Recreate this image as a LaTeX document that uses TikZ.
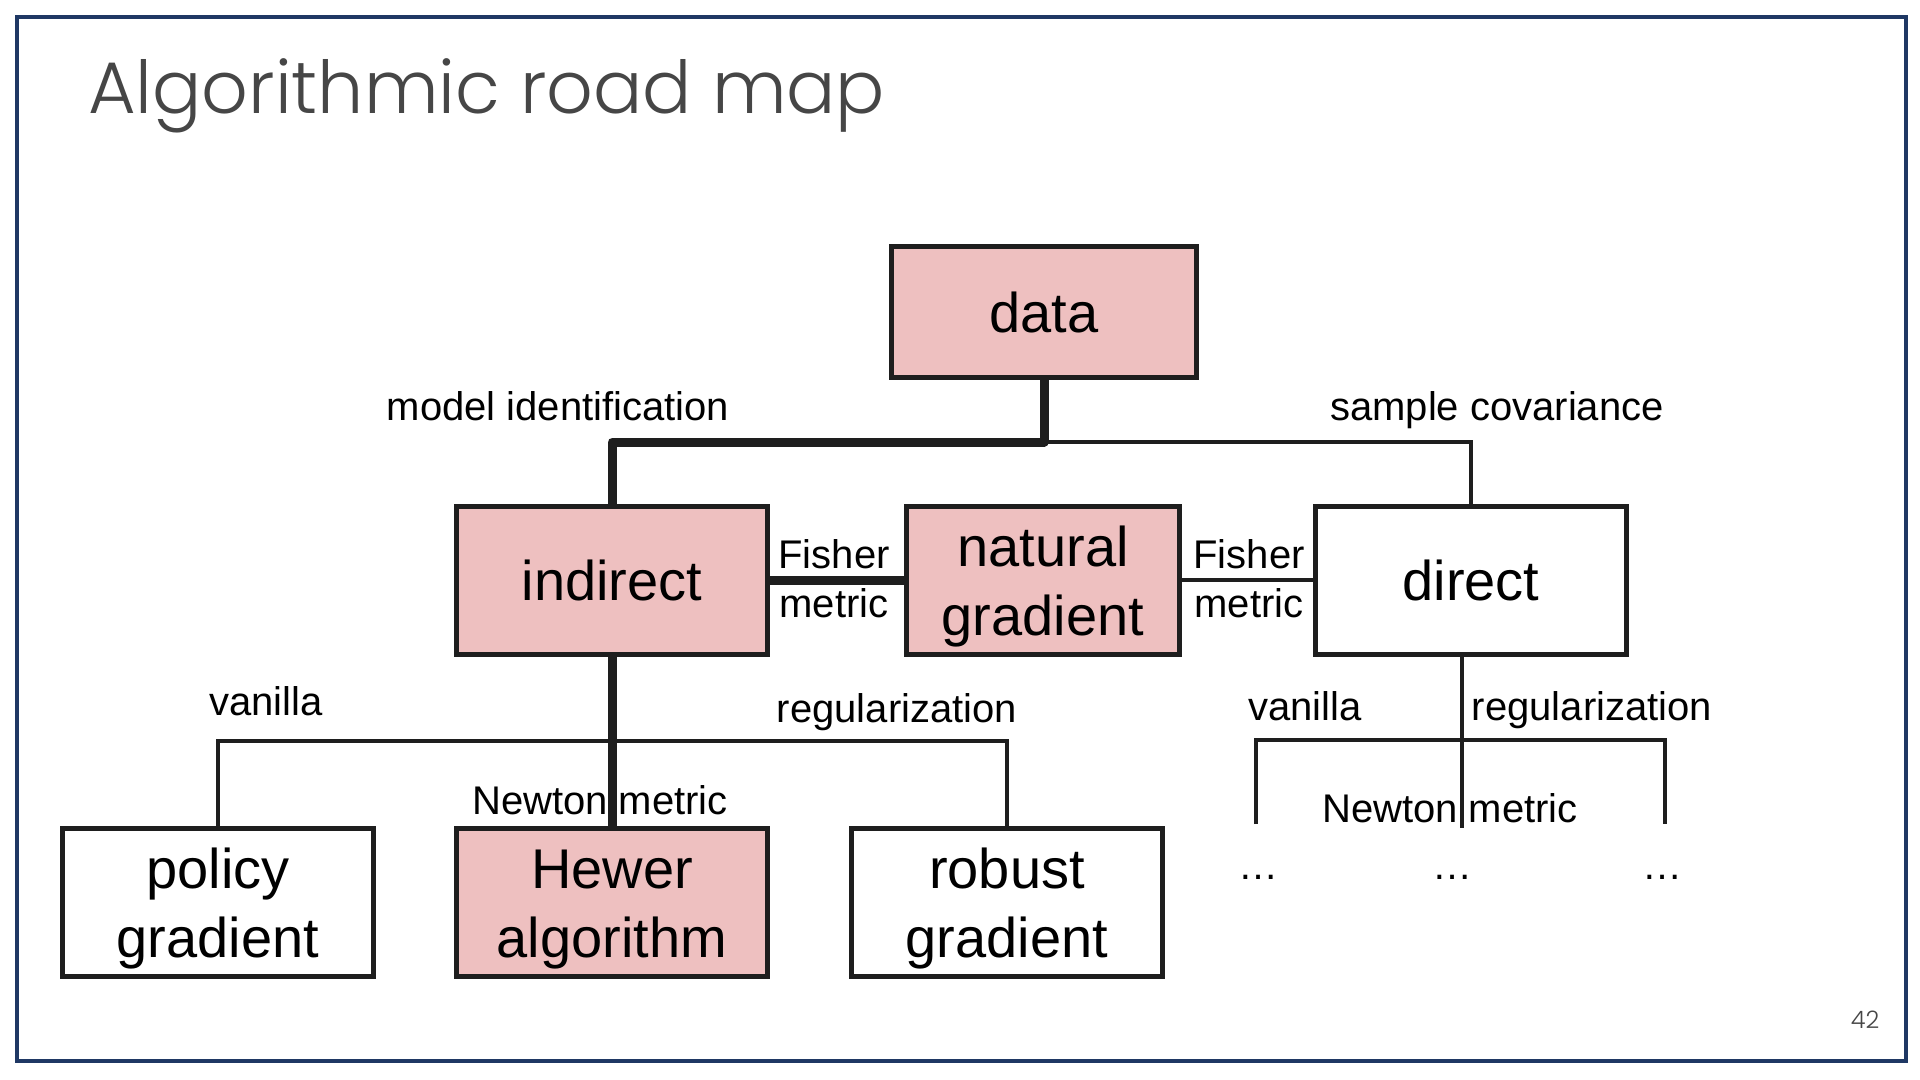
\documentclass[tikz,border=0pt]{standalone}
\usepackage{fontspec}
\setmainfont{Liberation Sans}
\IfFontExistsTF{Poppins Light}{\newfontfamily\titlefont{Poppins Light}}{\newfontfamily\titlefont{Poppins}}
\definecolor{boxpink}{RGB}{238,192,192}
\definecolor{linecol}{RGB}{30,30,30}
\definecolor{framecol}{RGB}{31,56,100}
\definecolor{titlegray}{RGB}{70,70,70}
\newcommand{\toplift}{\rule{0pt}{27pt}}
\begin{document}
\begin{tikzpicture}[x=0.5pt,y=-0.5pt,
  box/.style={draw=linecol, line width=2.5pt, fill=white, inner sep=0pt, align=center,
    minimum width=155.5pt, minimum height=74pt, font=\fontsize{28}{34.5}\selectfont},
  pinkbox/.style={box, fill=boxpink},
  thickc/.style={draw=linecol, line width=4.5pt},
  thinc/.style={draw=linecol, line width=1.8pt},
  lbl/.style={font=\fontsize{20}{24}\selectfont, inner sep=0pt, anchor=base},
  lbl2/.style={font=\fontsize{20}{24.5}\selectfont, inner sep=0pt, align=center}]
\useasboundingbox (0,0) rectangle (1920,1080);
\fill[white] (0,0) rectangle (1920,1080);
\draw[framecol, line width=1.6pt] (17,17) rectangle (1906,1061);

\node[anchor=base west, inner sep=0pt, text=titlegray, font=\titlefont\fontsize{36.5}{44}\selectfont] (title) at (88,114) {Algorithmic road map};
\node[anchor=base, inner sep=0pt, text=titlegray, font=\titlefont\fontsize{12}{14}\selectfont] (pnum) at (1865,1028) {42};

% nodes
\node[pinkbox, minimum width=152.5pt, minimum height=65pt] (data) at (1044,312) {data};
\node[pinkbox] (indirect) at (612,580) {indirect};
\node[pinkbox, minimum width=136.5pt] (natural) at (1043,580) {\toplift natural\\gradient};
\node[box] (direct) at (1471,580) {direct};
\node[box] (policy) at (218,902) {\toplift policy\\gradient};
\node[pinkbox] (hewer) at (612,902) {\toplift Hewer\\algorithm};
\node[box] (robust) at (1007,902) {\toplift robust\\gradient};

% labels
\node[lbl] (lmodel) at (558,420) {model identification};
\node[lbl] (lsample) at (1497,420) {sample covariance};
\node[lbl2] (lfish1) at (834,579) {Fisher\\metric};
\node[lbl2] (lfish2) at (1249,579) {Fisher\\metric};
\node[lbl] (lvan1) at (266,715) {vanilla};
\node[lbl] (lreg1) at (897,722) {regularization};
\node[lbl] (lnewt1) at (600,814) {Newton metric};
\node[lbl] (lvan2) at (1305,720) {vanilla};
\node[lbl] (lreg2) at (1592,720) {regularization};
\node[lbl] (lnewt2) at (1450,822) {Newton metric};
\node[lbl] (dots1) at (1258,879) {…};
\node[lbl] (dots2) at (1452,879) {…};
\node[lbl] (dots3) at (1662,879) {…};

% junction coordinates
\coordinate (jtop) at (1044,442);
\coordinate (jind) at (612,741);
\coordinate (jdir) at (1462,740);
\coordinate (dd1) at (1256,824);
\coordinate (dd2) at (1462,828);
\coordinate (dd3) at (1665,824);

% connectors
\draw[thinc] (jtop) -| (direct.north);
\draw[thickc, line join=round] (data.south) -- (jtop) -| (indirect.north);
\draw[thickc] (indirect.east) -- (natural.west);
\draw[thinc] (natural.east) -- (direct.west);
\draw[thinc] (policy.north) |- (jind) -| (robust.north);
\draw[thickc] (indirect.south) -- (hewer.north);
\draw[thinc] ([xshift=-4.5pt]direct.south) -- (dd2);
\draw[thinc] (dd1) |- (jdir) -| (dd3);
\end{tikzpicture}
\end{document}
